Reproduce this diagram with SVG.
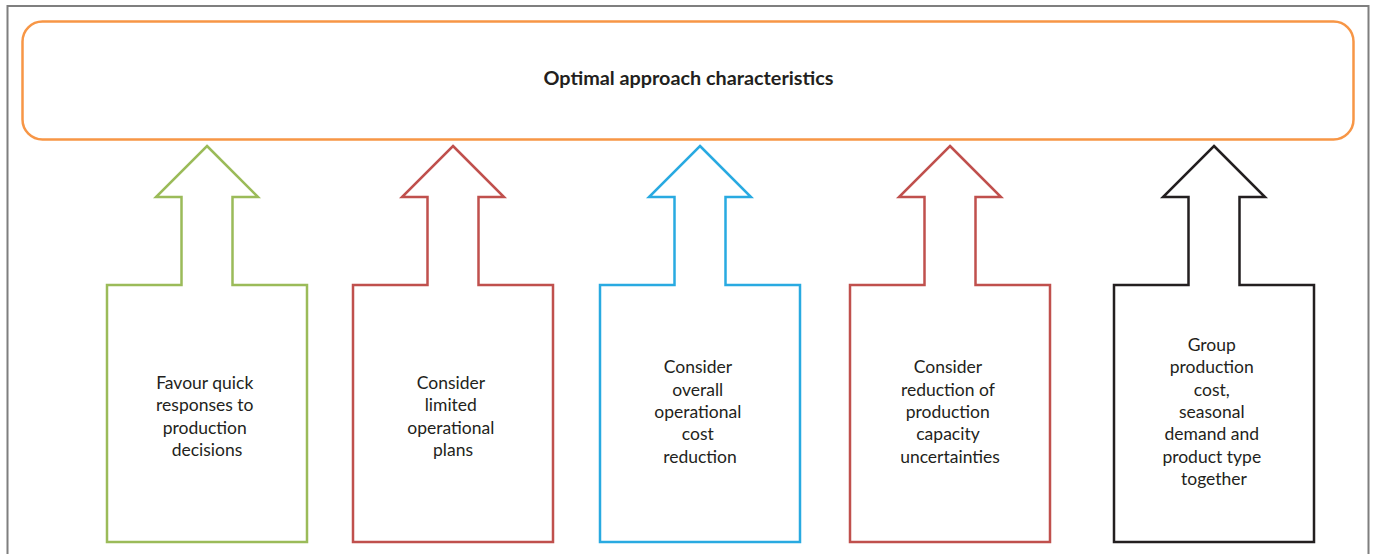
<svg xmlns="http://www.w3.org/2000/svg" width="1375" height="554" viewBox="0 0 1375 554">
  <defs>
    <style>
      .frame { fill: none; stroke: #7F7F7F; stroke-width: 2; }
      .banner { fill: #ffffff; stroke: #F79646; stroke-width: 2.5; }
      .arrow { fill: #ffffff; stroke-width: 2.5; stroke-linejoin: miter; }
      .green { stroke: #9BBB59; }
      .red { stroke: #C0504D; }
      .blue { stroke: #29AAE1; }
      .black { stroke: #231F20; }
      .label { font-family: Lato, "Open Sans", "Liberation Sans", sans-serif; font-size: 17.5px; fill: #231F20; text-anchor: middle; }
      .title { font-family: Lato, "Open Sans", "Liberation Sans", sans-serif; font-size: 19.8px; font-weight: bold; fill: #231F20; text-anchor: middle; }
    </style>
    <!-- arrow outline: head, shaft and box, centred on x=0 -->
    <path id="upArrow" d="M0,146 L51,197 L25.5,197 L25.5,285 L100,285 L100,542 L-100,542 L-100,285 L-25.5,285 L-25.5,197 L-51,197 Z"/>
  </defs>

  <!-- outer frame (open at the bottom) -->
  <path class="frame" d="M7.5,554 L7.5,6 L1368.5,6 L1368.5,554"/>

  <g id="banner">
    <rect class="banner" x="22.5" y="21.5" width="1331" height="118" rx="20" ry="20"/>
    <text class="title" x="688.5" y="85">Optimal approach characteristics</text>
  </g>

  <g id="connectors"/>

  <g id="node-quick">
    <use href="#upArrow" class="arrow green" x="207"/>
    <text class="label" x="207">
      <tspan x="207" y="389">Favour quick</tspan>
      <tspan x="207" y="411.3">responses to</tspan>
      <tspan x="207" y="433.6">production</tspan>
      <tspan x="207" y="456">decisions</tspan>
    </text>
  </g>

  <g id="node-limited">
    <use href="#upArrow" class="arrow red" x="453"/>
    <text class="label" x="453">
      <tspan x="453" y="389">Consider</tspan>
      <tspan x="453" y="411.3">limited</tspan>
      <tspan x="453" y="433.6">operational</tspan>
      <tspan x="453" y="456">plans</tspan>
    </text>
  </g>

  <g id="node-cost">
    <use href="#upArrow" class="arrow blue" x="700"/>
    <text class="label" x="700">
      <tspan x="700" y="373.3">Consider</tspan>
      <tspan x="700" y="395.6">overall</tspan>
      <tspan x="700" y="418">operational</tspan>
      <tspan x="700" y="440.3">cost</tspan>
      <tspan x="700" y="462.6">reduction</tspan>
    </text>
  </g>

  <g id="node-capacity">
    <use href="#upArrow" class="arrow red" x="950"/>
    <text class="label" x="950">
      <tspan x="950" y="373.3">Consider</tspan>
      <tspan x="950" y="395.6">reduction of</tspan>
      <tspan x="950" y="418">production</tspan>
      <tspan x="950" y="440.3">capacity</tspan>
      <tspan x="950" y="462.6">uncertainties</tspan>
    </text>
  </g>

  <g id="node-group">
    <use href="#upArrow" class="arrow black" x="1214"/>
    <text class="label" x="1214">
      <tspan x="1214" y="351">Group</tspan>
      <tspan x="1214" y="373.3">production</tspan>
      <tspan x="1214" y="395.6">cost,</tspan>
      <tspan x="1214" y="418">seasonal</tspan>
      <tspan x="1214" y="440.3">demand and</tspan>
      <tspan x="1214" y="462.6">product type</tspan>
      <tspan x="1214" y="485">together</tspan>
    </text>
  </g>
</svg>
